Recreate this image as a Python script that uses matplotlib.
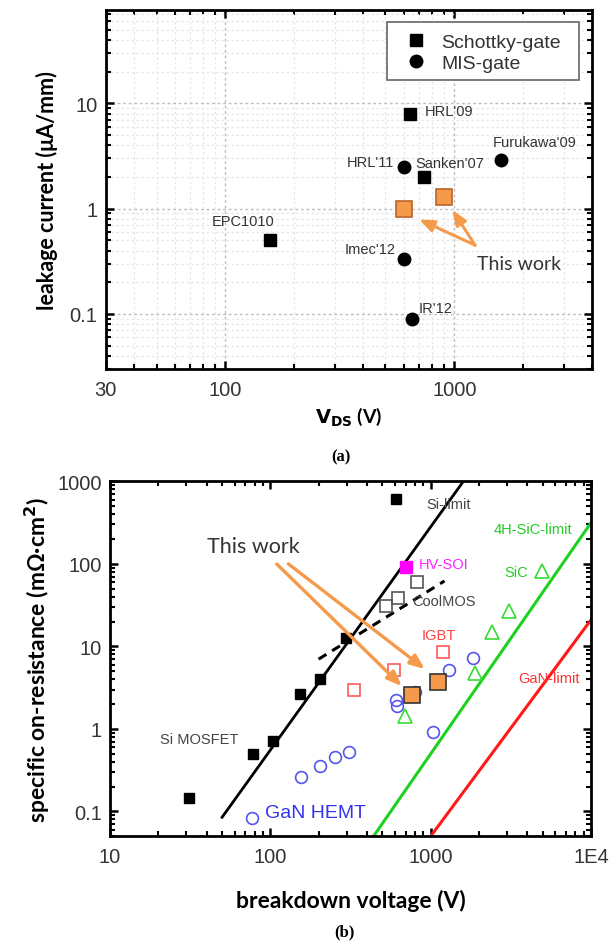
import matplotlib
matplotlib.use("Agg")
import matplotlib.pyplot as plt
from matplotlib.ticker import FixedLocator, LogLocator, NullFormatter, FixedFormatter
from matplotlib.lines import Line2D
from matplotlib.patches import Rectangle

plt.rcParams['font.family'] = ['Liberation Sans', 'DejaVu Sans']

# ---------------- (a) leakage current vs V_DS ----------------
schottky_names = ["EPC1010", "HRL'09", "Sanken'07"]
schottky_v = [157, 640, 740]
schottky_i = [0.5, 8.0, 2.0]

mis_names = ["HRL'11", "Furukawa'09", "Imec'12", "IR'12"]
mis_v = [600, 1600, 600, 652]
mis_i = [2.5, 2.9, 0.33, 0.09]

work_a_v = [600, 900]
work_a_i = [1.0, 1.3]

# ---------------- (b) specific on-resistance vs breakdown voltage ----------------
si_mosfet_v = [31, 78, 104, 153, 204, 298, 604]
si_mosfet_r = [0.144, 0.49, 0.72, 2.64, 4.0, 12.7, 611]

hvsoi_v = [703]
hvsoi_r = [91]

coolmos_v = [527, 623, 826]
coolmos_r = [30.5, 39, 59.7]

igbt_v = [333, 591, 1200]
igbt_r = [2.98, 5.17, 8.6]

sic_v = [692, 1892, 2427, 3083, 4978]
sic_r = [1.42, 4.7, 14.8, 26.5, 82.4]

gan_v = [76.6, 155, 204, 253, 311, 605, 614, 800, 1030, 1310, 1828]
gan_r = [0.083, 0.262, 0.357, 0.452, 0.527, 2.25, 1.9, 2.77, 0.91, 5.2, 7.2]

work_b_v = [762, 1107]
work_b_r = [2.6, 3.75]

si_limit_v = [50, 1600]
si_limit_r = [0.085, 1000]
sic_limit_v = [440, 10000]
sic_limit_r = [0.05, 315]
gan_limit_v = [1000, 10000]
gan_limit_r = [0.05, 21]
coolmos_trend_v = [200, 1220]
coolmos_trend_r = [7.0, 62]

ORANGE = '#f59a4a'
TXT = '#333333'
W, H = 613, 945

fig = plt.figure(figsize=(W / 100, H / 100), dpi=100)


def style_axes(ax):
    for s in ax.spines.values():
        s.set_linewidth(2.0)
        s.set_color('black')
    ax.tick_params(which='both', direction='in', top=True, right=True,
                   colors='black', labelcolor=TXT, labelsize=14.5)
    ax.tick_params(which='major', length=6, width=1.8, pad=8)
    ax.tick_params(which='minor', length=3.5, width=1.5)


# ======== panel (a) ========
axa = fig.add_axes([105.7 / W, 1 - 370 / H, 486.6 / W, 359 / H])
axa.set_xscale('log')
axa.set_yscale('log')
axa.set_xlim(30, 4000)
axa.set_ylim(0.03, 77)
style_axes(axa)
axa.tick_params(axis='y', which='major', pad=6)

axa.xaxis.set_major_locator(FixedLocator([30, 100, 1000]))
axa.xaxis.set_major_formatter(FixedFormatter(['30', '100', '1000']))
axa.xaxis.set_minor_locator(LogLocator(base=10, subs=range(2, 10), numticks=20))
axa.xaxis.set_minor_formatter(NullFormatter())
axa.yaxis.set_major_locator(FixedLocator([0.1, 1, 10]))
axa.yaxis.set_major_formatter(FixedFormatter(['0.1', '1', '10']))
axa.yaxis.set_minor_locator(LogLocator(base=10, subs=range(2, 10), numticks=20))
axa.yaxis.set_minor_formatter(NullFormatter())

axa.grid(True, which='major', ls=(0, (2, 2)), color='#bdbdbd', lw=1.0)
axa.grid(True, which='minor', ls=(0, (2, 2)), color='#e6e6e6', lw=0.9)
axa.set_axisbelow(True)

axa.plot(schottky_v, schottky_i, 's', color='black', ms=8.5, ls='none', zorder=3)
axa.plot(mis_v, mis_i, 'o', color='black', ms=9, ls='none', zorder=3)
axa.plot(work_a_v, work_a_i, 's', mfc=ORANGE, mec='#b8662a', mew=1.2, ms=11,
         ls='none', zorder=4)

lab_kw = dict(fontsize=10.5, color=TXT, va='center')
axa.text(743, 8.4, "HRL'09", ha='left', **lab_kw)
axa.text(1472, 4.3, "Furukawa'09", ha='left', **lab_kw)
axa.text(547, 2.8, "HRL'11", ha='right', **lab_kw)
axa.text(673, 2.74, "Sanken'07", ha='left', **lab_kw)
axa.text(119, 0.76, "EPC1010", ha='center', **lab_kw)
axa.text(553, 0.416, "Imec'12", ha='right', **lab_kw)
axa.text(701, 0.114, "IR'12", ha='left', **lab_kw)
axa.text(1258, 0.30, "This work", ha='left', va='center', fontsize=14,
         color=TXT, family=['Lato', 'DejaVu Sans'])

arrow_a = dict(arrowstyle='-|>,head_length=0.55,head_width=0.22', color=ORANGE,
               lw=2.2, shrinkA=0, shrinkB=0, mutation_scale=16)
axa.annotate('', xy=(701, 0.79), xytext=(1231, 0.45), arrowprops=arrow_a)
axa.annotate('', xy=(980, 0.97), xytext=(1231, 0.45), arrowprops=arrow_a)

# legend: entries without frame, box drawn as its own rectangle
box_x0, box_x1 = 0.5775, 0.9727
box_y0, box_y1 = 0.805, 0.9674
axa.add_patch(Rectangle((box_x0, box_y0), box_x1 - box_x0, box_y1 - box_y0,
                        transform=axa.transAxes, fill=True, fc='white',
                        ec='#666666', lw=1.2, zorder=5))
handles = [Line2D([], [], marker='s', color='black', ls='none', ms=8.5),
           Line2D([], [], marker='o', color='black', ls='none', ms=9)]
leg = axa.legend(handles, ['Schottky-gate', 'MIS-gate'], loc='upper left',
                 bbox_to_anchor=(box_x0, box_y1), borderaxespad=0,
                 fontsize=14, frameon=False,
                 handlelength=1.8, handletextpad=0.4, labelspacing=0.15,
                 borderpad=0.6)
leg.set_zorder(6)
for t in leg.get_texts():
    t.set_color(TXT)

axa.set_ylabel('leakage current (μA/mm)', fontsize=15.5, fontweight='bold',
               family=['Lato', 'DejaVu Sans'], labelpad=8)
axa.set_xlabel(r'$\mathbf{V_{DS}}$ (V)', fontsize=14, fontweight='bold',
               family=['Lato', 'DejaVu Sans'], labelpad=4)
fig.text(341 / W, 1 - 457 / H, '(a)', ha='center', va='center', fontsize=12,
         fontweight='bold', family=['Liberation Serif', 'DejaVu Serif'])

# ======== panel (b) ========
axb = fig.add_axes([110 / W, 1 - 837.3 / H, 481 / W, 355 / H])
axb.set_xscale('log')
axb.set_yscale('log')
axb.set_xlim(10, 10000)
axb.set_ylim(0.05, 1000)
style_axes(axb)
axb.tick_params(axis='y', which='major', pad=6)

axb.xaxis.set_major_locator(FixedLocator([10, 100, 1000, 10000]))
axb.xaxis.set_major_formatter(FixedFormatter(['10', '100', '1000', '1E4']))
axb.xaxis.set_minor_locator(LogLocator(base=10, subs=range(2, 10), numticks=20))
axb.xaxis.set_minor_formatter(NullFormatter())
axb.yaxis.set_major_locator(FixedLocator([0.1, 1, 10, 100, 1000]))
axb.yaxis.set_major_formatter(FixedFormatter(['0.1', '1', '10', '100', '1000']))
axb.yaxis.set_minor_locator(LogLocator(base=10, subs=range(2, 10), numticks=20))
axb.yaxis.set_minor_formatter(NullFormatter())

axb.plot(si_limit_v, si_limit_r, color='black', lw=2.0, zorder=2)
axb.plot(sic_limit_v, sic_limit_r, color='#1fd11f', lw=2.2, zorder=2)
axb.plot(gan_limit_v, gan_limit_r, color='#ff1a1a', lw=2.2, zorder=2)
axb.plot(coolmos_trend_v, coolmos_trend_r, color='black', lw=2.2,
         ls=(0, (3, 2.2)), zorder=2)

axb.plot(si_mosfet_v, si_mosfet_r, 's', color='black', ms=7, ls='none', zorder=3)
axb.plot(hvsoi_v, hvsoi_r, 's', color='#ff00ff', ms=9, ls='none', zorder=3)
axb.plot(coolmos_v, coolmos_r, 's', mfc='none', mec='#555555', mew=1.2, ms=8,
         ls='none', zorder=3)
axb.plot(igbt_v, igbt_r, 's', mfc='none', mec='#ff5a5a', mew=1.2, ms=8,
         ls='none', zorder=3)
axb.plot(sic_v, sic_r, '^', mfc='none', mec='#33dd33', mew=1.2, ms=9.5,
         ls='none', zorder=3)
axb.plot(gan_v, gan_r, 'o', mfc='none', mec='#5555ee', mew=1.2, ms=8.5,
         ls='none', zorder=3)
axb.plot(work_b_v, work_b_r, 's', mfc=ORANGE, mec='#333333', mew=1.2, ms=12,
         ls='none', zorder=4)

lb = dict(fontsize=10.5, va='center', ha='left')
axb.text(946, 531, 'Si-limit', color='#444444', **lb)
axb.text(2461, 264, '4H-SiC-limit', color='#22cc22', **lb)
axb.text(837, 99.5, 'HV-SOI', color='#ff22ff', **lb)
axb.text(2870, 80, 'SiC', color='#22cc22', **lb)
axb.text(773, 35.7, 'CoolMOS', color='#444444', **lb)
axb.text(879, 13.7, 'IGBT', color='#ff4444', **lb)
axb.text(3524, 4.1, 'GaN-limit', color='#ff3333', **lb)
axb.text(20.5, 0.75, 'Si MOSFET', color='#444444', **lb)
axb.text(92.7, 0.097, 'GaN HEMT', color='#3333ee', fontsize=14, va='center',
         ha='left')
axb.text(40.1, 166, 'This work', color=TXT, fontsize=15.5, va='center',
         ha='left', family=['Lato', 'DejaVu Sans'])

arrow_b = dict(arrowstyle='-|>,head_length=0.55,head_width=0.22', color=ORANGE,
               lw=2.4, shrinkA=0, shrinkB=0, mutation_scale=16)
axb.annotate('', xy=(661, 3.3), xytext=(109.6, 99.6), arrowprops=arrow_b)
axb.annotate('', xy=(922, 5.3), xytext=(129.4, 100), arrowprops=arrow_b)

axb.set_ylabel('specific on-resistance (mΩ·cm$^\\mathbf{2}$)', fontsize=16.5,
               fontweight='bold', family=['Lato', 'DejaVu Sans'], labelpad=4)
axb.set_xlabel('breakdown voltage (V)', fontsize=16.5, fontweight='bold',
               family=['Lato', 'DejaVu Sans'], labelpad=16)
fig.text(344 / W, 1 - 932 / H, '(b)', ha='center', va='center', fontsize=12,
         fontweight='bold', family=['Liberation Serif', 'DejaVu Serif'])

fig.savefig('out.png', dpi=100)
